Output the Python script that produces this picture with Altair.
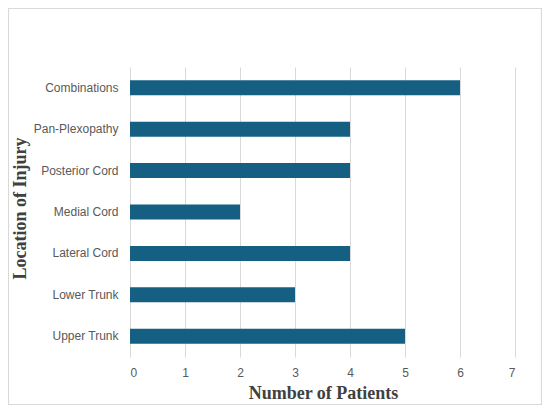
import altair as alt
import pandas as pd

locations = ["Combinations", "Pan-Plexopathy", "Posterior Cord", "Medial Cord",
             "Lateral Cord", "Lower Trunk", "Upper Trunk"]
patients = [6, 4, 4, 2, 4, 3, 5]
x_ticks = [0, 1, 2, 3, 4, 5, 6, 7]

df = pd.DataFrame({"Location": locations, "Patients": patients})

W, H = 385, 290

border = alt.Chart(pd.DataFrame({"a": [0]})).mark_rect(
    fill=None, stroke="#d9d9d9", strokeWidth=1.2
).encode(
    x=alt.value(-121.5), x2=alt.value(411.5), y=alt.value(-58.5), y2=alt.value(337.5)
)

bars = alt.Chart(df).mark_bar(color="#156082").encode(
    x=alt.X("Patients:Q",
            scale=alt.Scale(domain=[0, 7], nice=False),
            axis=alt.Axis(values=x_ticks, title="Number of Patients",
                          grid=True, gridColor="#d9d9d9", domain=False, ticks=False,
                          labelPadding=10, labelFont="Liberation Sans", labelFontSize=12,
                          labelColor="#595959",
                          titleFont="Liberation Serif", titleFontSize=18, titleFontWeight="bold",
                          titleColor="#404040", titleX=193, titleY=36, titleBaseline="middle")),
    y=alt.Y("Location:N", sort=None,
            scale=alt.Scale(paddingInner=0.638, paddingOuter=0.319),
            axis=alt.Axis(title="Location of Injury", domain=False, ticks=False, grid=False,
                          labelPadding=12, labelFont="Liberation Sans", labelFontSize=12,
                          labelColor="#595959",
                          titleFont="Liberation Serif", titleFontSize=18, titleFontWeight="bold",
                          titleColor="#404040", titleAngle=270, titleX=-110, titleY=141,
                          titleAlign="center", titleBaseline="middle")),
)

chart = alt.layer(border, bars).properties(
    width=W, height=H,
    autosize=alt.AutoSizeParams(type="none"),
    padding={"left": 122, "top": 59, "right": 27, "bottom": 48},
).configure(background="white").configure_view(stroke=None)

chart.save("out.html", embed_options={"renderer": "svg", "actions": False})
